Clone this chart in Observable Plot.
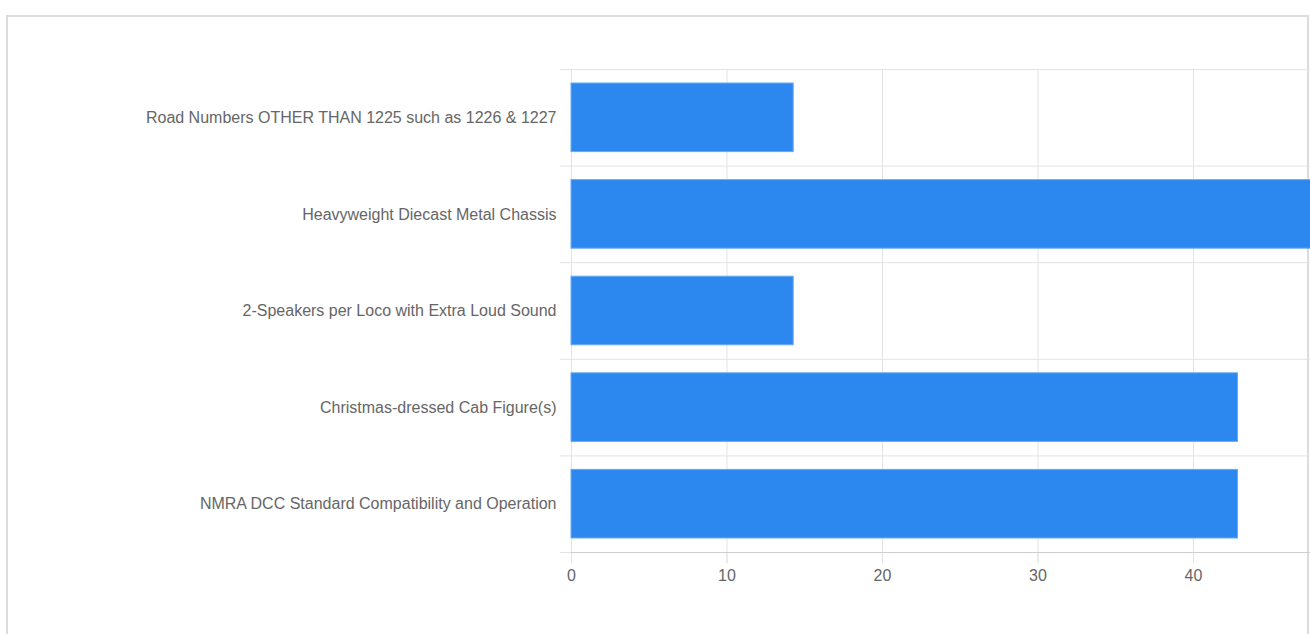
<!DOCTYPE html>
<html>
<head>
<meta charset="utf-8">
<script src="https://cdn.jsdelivr.net/npm/d3@7"></script>
<script src="https://cdn.jsdelivr.net/npm/@observablehq/plot@0.6"></script>
<style>
  html, body { margin: 0; padding: 0; overflow: hidden; background: #fff; width: 1310px; height: 634px; }
  #frame { position: absolute; left: 6px; top: 15px; width: 1299px; height: 700px; border: 2px solid #dcdcdc; z-index: 0; }
  #chart { position: absolute; left: 0; top: 0; z-index: 1; }
</style>
</head>
<body>
<div id="frame"></div>
<div id="chart"></div>
<script>
const categories = [
  "Road Numbers OTHER THAN 1225 such as 1226 & 1227",
  "Heavyweight Diecast Metal Chassis",
  "2-Speakers per Loco with Extra Loud Sound",
  "Christmas-dressed Cab Figure(s)",
  "NMRA DCC Standard Compatibility and Operation"
];
const values = [14.29, 57.14, 14.29, 42.86, 42.86];
const xGridTicks = [0, 10, 20, 30, 40, 50, 60];
const xTickLabels = [0, 10, 20, 30, 40];

const data = categories.map((c, i) => ({category: c, index: i, value: values[i]}));
const bandEdges = d3.range(categories.length + 1);
const bandCenters = categories.map((c, i) => i + 0.5);

const font = "Arial, 'Liberation Sans', sans-serif";

const chart = Plot.plot({
  width: 1504,
  height: 634,
  marginLeft: 571,
  marginRight: 0,
  marginTop: 69,
  marginBottom: 82,
  style: {maxWidth: "none", background: "transparent", fontFamily: font, fontSize: "16px", overflow: "visible"},
  x: {domain: [0, 60], axis: null},
  y: {domain: [0, categories.length], reverse: true, axis: null},
  marks: [
    Plot.gridX(xGridTicks, {stroke: "#e3e3e3", strokeOpacity: 1}),
    Plot.gridY(bandEdges, {stroke: "#e3e3e3", strokeOpacity: 1}),
    Plot.axisY(bandEdges, {tickSize: 11, tickFormat: () => "", stroke: "#e3e3e3", anchor: "left", label: null}),
    Plot.axisX(xGridTicks, {tickSize: 11, tickFormat: () => "", stroke: "#e3e3e3", anchor: "bottom", label: null}),
    Plot.axisX(xTickLabels, {tickSize: 11, tickPadding: 6, stroke: "#e3e3e3", fill: "#666", fontSize: 16, anchor: "bottom", label: null}),
    Plot.rectX(data, {x1: 0, x2: "value", y1: "index", y2: d => d.index + 1, insetTop: 14, insetBottom: 14, fill: "#2c88ee", stroke: "#6aaaf3", strokeWidth: 1}),
    Plot.ruleY([categories.length], {stroke: "#cfcfcf"}),
    Plot.axisY(bandCenters, {tickSize: 0, tickPadding: 15, tickFormat: d => categories[Math.floor(d)], fill: "#666", fontSize: 16, anchor: "left", label: null})
  ]
});
document.getElementById("chart").appendChild(chart);
</script>
</body>
</html>
